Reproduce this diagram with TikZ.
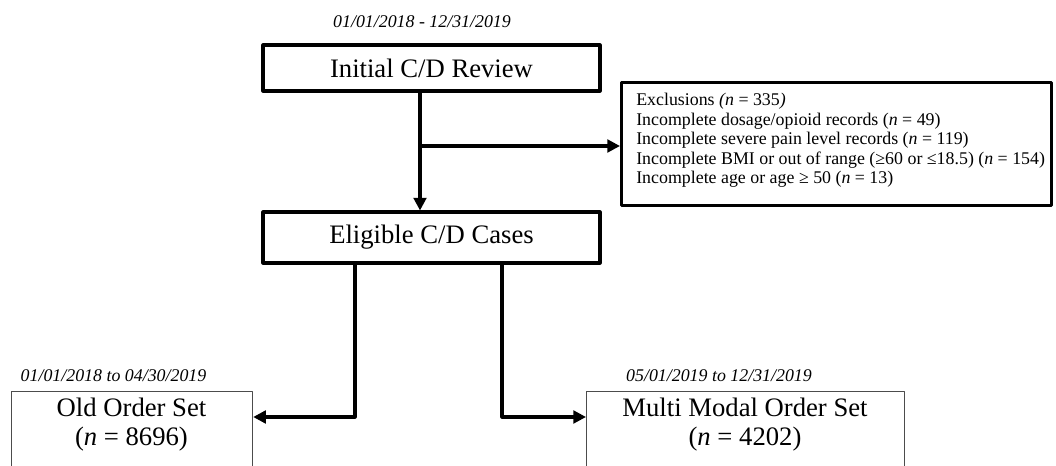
\documentclass[tikz,border=0pt]{standalone}
\usepackage{fontspec}
\setmainfont{Liberation Serif}
\usetikzlibrary{arrows.meta}
\begin{document}
\begin{tikzpicture}[x=0.75pt, y=-0.75pt, >={Triangle[length=9.5pt,width=9.5pt]}, line join=round, line cap=round,
	bigbox/.style={draw, line width=2.3pt, inner sep=0pt, minimum width=252.75pt, font=\fontsize{20}{24}\selectfont},
	setbox/.style={draw=black!70, line width=0.9pt, anchor=north west, inner sep=0pt, minimum height=110pt},
	settext/.style={align=center, font=\fontsize{20}{21.75}\selectfont},
	datelbl/.style={font=\fontsize{13.4}{16}\selectfont\itshape},
	flow/.style={->, line width=2.3pt}]
	\useasboundingbox (0,0) rectangle (1056,466);
	\clip (0,0) rectangle (1056,466);
	\node[datelbl] (d0) at (422,22) {01/01/2018 - 12/31/2019};
	\node[bigbox, minimum height=34.5pt] (init) at (431.5,68) {Initial C/D Review};
	\node[bigbox, minimum height=38.25pt] (elig) at (431.5,237.5) {Eligible C/D Cases};
	\node[draw, line width=2.3pt, anchor=north west, minimum width=322.5pt, minimum height=92.25pt] (excl) at (620,81) {};
	\node[anchor=north west, inner sep=0pt, align=left, font=\fontsize{13.4}{14.6}\selectfont] (excltxt) at (636,93)
		{Exclusions \textit{(n} = 335\textit{)}\\
		Incomplete dosage/opioid records (\textit{n} = 49)\\
		Incomplete severe pain level records (\textit{n} = 119)\\
		Incomplete BMI or out of range (≥60 or ≤18.5) (\textit{n} = 154)\\
		Incomplete age or age ≥ 50 (\textit{n} = 13)};
	\node[datelbl] (d1) at (113.5,376) {01/01/2018 to 04/30/2019};
	\node[setbox, minimum width=180.75pt] (old) at (11,391) {};
	\node[settext] (oldtxt) at (131.5,425) {Old Order Set\\(\textit{n} = 8696)};
	\node[datelbl] (d2) at (719,376) {05/01/2019 to 12/31/2019};
	\node[setbox, minimum width=238.5pt] (mmos) at (586,391) {};
	\node[settext] (mmostxt) at (745,425) {Multi Modal Order Set\\(\textit{n} = 4202)};
	\coordinate (split) at (420,146);
	\coordinate (la) at (355,417);
	\coordinate (ra) at (502,417);
	\draw[flow] (split |- init.south) -- (split |- elig.north);
	\draw[flow] (split) -- (split -| excl.west);
	\draw[flow] (la |- elig.south) -- (la) -- (la -| old.east);
	\draw[flow] (ra |- elig.south) -- (ra) -- (ra -| mmos.west);
\end{tikzpicture}
\end{document}
